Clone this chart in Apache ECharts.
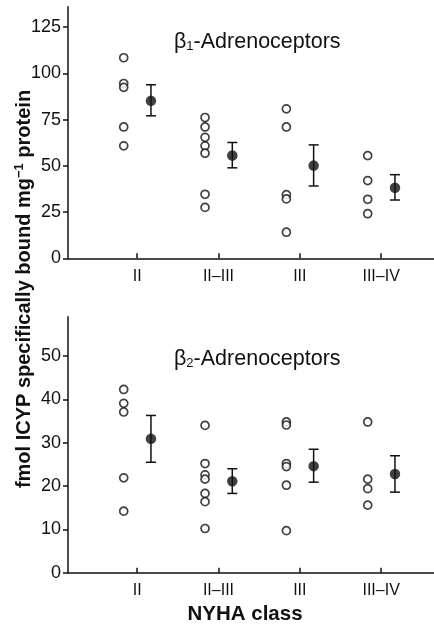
<!DOCTYPE html>
<html>
<head>
<meta charset="utf-8">
<script src="https://cdn.jsdelivr.net/npm/echarts@6/dist/echarts.min.js"></script>
<style>
  html, body { margin: 0; padding: 0; background: #fff; }
  #chart { width: 434px; height: 625px; }
</style>
</head>
<body>
<div id="chart"></div>
<script>
// NYHA classes
var categories = ['II', 'II\u2013III', 'III', 'III\u2013IV'];

// beta1 - individual patients per class
var b1Individual = [
    [108.4, 94.5, 92.4, 71.0, 60.8],
    [76.1, 71.0, 65.4, 60.8, 56.8, 34.6, 27.5],
    [80.8, 71.0, 34.4, 32.1, 14.1],
    [55.5, 42.0, 31.9, 24.1]
];
var b1Mean = [85.1, 55.6, 50.1, 38.1];
var b1ErrLow = [77.0, 48.9, 39.1, 31.5];
var b1ErrHigh = [93.8, 62.6, 61.3, 45.2];

// beta2 - individual patients per class
var b2Individual = [
    [42.3, 39.1, 37.1, 21.9, 14.2],
    [34.0, 25.2, 22.6, 21.6, 18.3, 16.4, 10.2],
    [34.8, 34.1, 25.2, 24.5, 20.2, 9.7],
    [34.8, 21.6, 19.4, 15.6]
];
var b2Mean = [30.9, 21.1, 24.6, 22.8];
var b2ErrLow = [25.5, 18.3, 20.9, 18.6];
var b2ErrHigh = [36.3, 24.0, 28.5, 27.0];

var b1Ticks = [0, 25, 50, 75, 100, 125];
var b2Ticks = [0, 10, 20, 30, 40, 50];

var circleShift = -0.165; // open circles left of the class tick
var meanShift = 0.17;     // mean +/- SEM right of it

var ink = '#111';
var font = 'Liberation Sans, Arial, sans-serif';

function points(groups) {
    var out = [];
    groups.forEach(function(vals, i) {
        vals.forEach(function(v) { out.push([i + 1 + circleShift, v]); });
    });
    return out;
}
function means(m) {
    return m.map(function(v, i) { return [i + 1 + meanShift, v]; });
}
function errs(lo, hi) {
    return lo.map(function(v, i) { return [i + 1 + meanShift, v, hi[i]]; });
}

function errRender(params, api) {
    var top = api.coord([api.value(0), api.value(2)]);
    var bot = api.coord([api.value(0), api.value(1)]);
    var w = 5;
    var st = { stroke: ink, lineWidth: 1.5 };
    return {
        type: 'group',
        children: [
            { type: 'line', shape: { x1: top[0], y1: top[1], x2: bot[0], y2: bot[1] }, style: st },
            { type: 'line', shape: { x1: top[0] - w, y1: top[1], x2: top[0] + w, y2: top[1] }, style: st },
            { type: 'line', shape: { x1: bot[0] - w, y1: bot[1], x2: bot[0] + w, y2: bot[1] }, style: st }
        ]
    };
}

function xAxisFor(idx) {
    return {
        gridIndex: idx,
        type: 'value',
        min: 0.15,
        max: 4.65,
        splitLine: { show: false },
        axisLine: { show: true, onZero: false, lineStyle: { color: ink, width: 1.5 } },
        axisTick: { show: true, inside: true, length: 5, customValues: [1, 2, 3, 4], lineStyle: { color: ink, width: 1.5 } },
        axisLabel: {
            customValues: [1, 2, 3, 4],
            margin: 10,
            color: ink,
            fontSize: 16,
            fontFamily: font,
            formatter: function(v) { return categories[Math.round(v) - 1]; }
        }
    };
}
function yAxisFor(idx, max, ticks) {
    return {
        gridIndex: idx,
        type: 'value',
        min: 0,
        max: max,
        splitLine: { show: false },
        axisLine: { show: true, lineStyle: { color: ink, width: 1.5 } },
        axisTick: { show: true, length: 5, customValues: ticks, lineStyle: { color: ink, width: 1.5 } },
        axisLabel: { customValues: ticks, margin: 7, color: ink, fontSize: 18, fontFamily: font }
    };
}

function panelSeries(idx, indiv, m, lo, hi) {
    return [
        {
            type: 'scatter', xAxisIndex: idx, yAxisIndex: idx,
            symbol: 'circle', symbolSize: 8,
            itemStyle: { color: '#fff', borderColor: ink, borderWidth: 1.7 },
            data: points(indiv)
        },
        {
            type: 'custom', xAxisIndex: idx, yAxisIndex: idx,
            renderItem: errRender,
            data: errs(lo, hi),
            z: 3
        },
        {
            type: 'scatter', xAxisIndex: idx, yAxisIndex: idx,
            symbol: 'circle', symbolSize: 10.5,
            itemStyle: { color: ink },
            data: means(m),
            z: 4
        }
    ];
}

var subRich = { s: { fontSize: 13, fontFamily: font, fill: ink, verticalAlign: 'bottom', padding: [9, 0, 0, 0] } };

var myChart = echarts.init(document.getElementById('chart'));
var option = {
    animation: false,
    backgroundColor: '#fff',
    grid: [
        { left: 68, right: 0, top: 6.7, height: 251.6 },
        { left: 68, right: 0, top: 316.7, height: 256 }
    ],
    xAxis: [xAxisFor(0), xAxisFor(1)],
    yAxis: [yAxisFor(0, 136, b1Ticks), yAxisFor(1, 59.1, b2Ticks)],
    series: panelSeries(0, b1Individual, b1Mean, b1ErrLow, b1ErrHigh)
        .concat(panelSeries(1, b2Individual, b2Mean, b2ErrLow, b2ErrHigh)),
    graphic: [
        {
            type: 'text', left: 174, top: 31,
            style: { text: '\u03b2{s|1}-Adrenoceptors', fill: ink, font: '21.5px ' + font, rich: subRich }
        },
        {
            type: 'text', left: 174, top: 348,
            style: { text: '\u03b2{s|2}-Adrenoceptors', fill: ink, font: '21.5px ' + font, rich: subRich }
        },
        {
            type: 'text', x: 245, y: 614,
            style: {
                text: 'NYHA class', fill: ink, font: 'bold 20.5px ' + font,
                textAlign: 'center', textVerticalAlign: 'middle'
            }
        },
        {
            type: 'text', x: 24, y: 289, rotation: Math.PI / 2,
            style: {
                text: 'fmol ICYP specifically bound mg{sup|\u22121} protein',
                fill: ink, font: 'bold 20px ' + font,
                textAlign: 'center', textVerticalAlign: 'middle',
                rich: { sup: { fontSize: 13, fontWeight: 'bold', fontFamily: font, fill: ink, padding: [0, 0, 10, 0] } }
            }
        }
    ]
};
myChart.setOption(option);
</script>
</body>
</html>
